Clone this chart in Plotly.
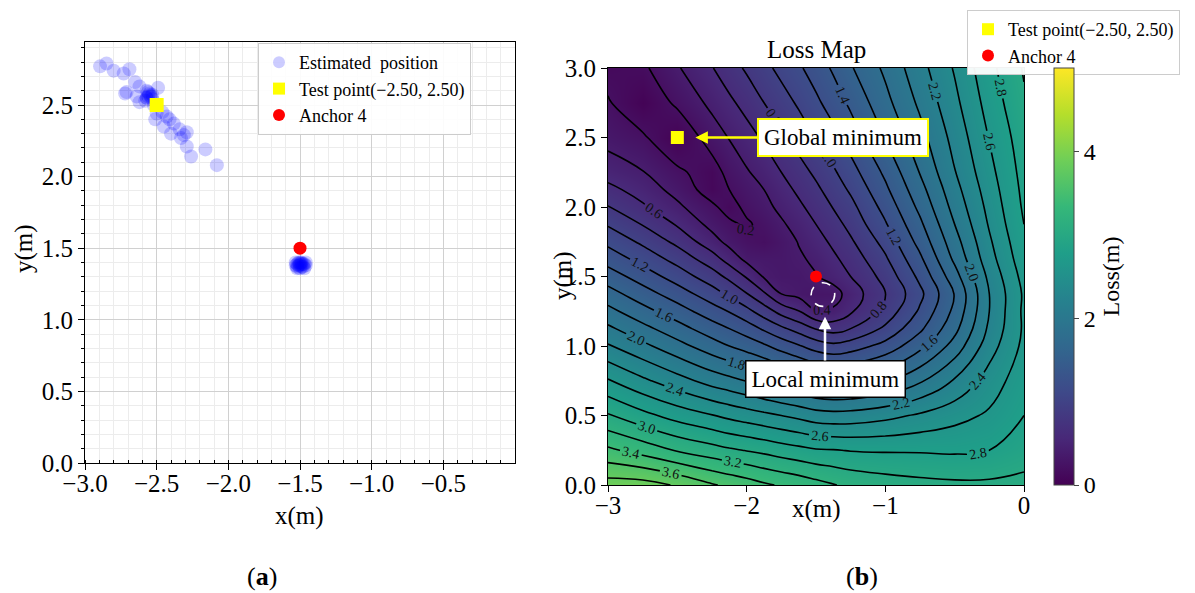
import plotly.graph_objects as go

FONT = "Liberation Serif, Times New Roman, DejaVu Serif, serif"
W, H = 1187, 585      # page body adds an 8 px margin
OFF = 8

# ---------------- panel (a) data ----------------
est_x = [-2.895, -2.85, -2.80, -2.73, -2.69, -2.71, -2.72, -2.65, -2.62, -2.57,
         -2.55, -2.49, -2.62, -2.64, -2.57, -2.53, -2.52, -2.50, -2.46, -2.51,
         -2.43, -2.41, -2.38, -2.45, -2.40, -2.34, -2.31, -2.29, -2.33, -2.29,
         -2.26, -2.16, -2.08, -2.56, -2.55, -2.57, -2.54, -2.56, -2.58, -2.53,
         -1.53, -1.50, -1.47, -1.49, -1.52, -1.48, -1.51, -1.46, -1.50, -1.49,
         -1.52, -1.47, -1.50, -1.51, -1.48, -1.53, -1.49, -1.50, -1.46, -1.52]
est_y = [2.77, 2.79, 2.74, 2.72, 2.75, 2.59, 2.58, 2.66, 2.63, 2.60,
         2.58, 2.62, 2.52, 2.56, 2.55, 2.57, 2.50, 2.44, 2.45, 2.40,
         2.42, 2.40, 2.37, 2.35, 2.30, 2.33, 2.29, 2.31, 2.27, 2.21,
         2.14, 2.19, 2.08, 2.56, 2.57, 2.55, 2.56, 2.59, 2.53, 2.54,
         1.38, 1.38, 1.39, 1.40, 1.37, 1.37, 1.40, 1.40, 1.36, 1.39,
         1.39, 1.36, 1.40, 1.38, 1.39, 1.40, 1.37, 1.39, 1.38, 1.36]
test_x, test_y = [-2.5], [2.5]
anchor_x, anchor_y = [-1.5], [1.5]

# ---------------- panel (b) loss map ----------------
grid_x = [-3.0, -2.75, -2.5, -2.25, -2.125, -2.0, -1.875, -1.75, -1.625, -1.5,
          -1.375, -1.25, -1.0, -0.75, -0.5, -0.25, 0.0]
grid_y = [0.0, 0.25, 0.5, 0.75, 1.0, 1.125, 1.25, 1.375, 1.5, 1.625, 1.75,
          1.875, 2.0, 2.125, 2.25, 2.5, 2.75, 3.0]
loss = [
    [3.89, 3.88, 3.78, 3.62, 3.56, 3.50, 3.43, 3.38, 3.33, 3.27, 3.21, 3.16, 3.10, 3.06, 3.04, 3.04, 3.06],  # 0.0
    [3.44, 3.32, 3.18, 3.08, 3.03, 2.99, 2.95, 2.90, 2.86, 2.82, 2.81, 2.79, 2.78, 2.78, 2.77, 2.80, 2.90],  # 0.25
    [3.02, 2.86, 2.72, 2.61, 2.55, 2.50, 2.45, 2.40, 2.35, 2.29, 2.27, 2.28, 2.34, 2.43, 2.53, 2.63, 2.80],  # 0.5
    [2.62, 2.44, 2.28, 2.12, 2.06, 1.99, 1.92, 1.84, 1.78, 1.71, 1.68, 1.69, 1.79, 1.97, 2.22, 2.49, 2.72],  # 0.75
    [2.22, 2.05, 1.87, 1.69, 1.60, 1.52, 1.43, 1.32, 1.22, 1.11, 1.05, 1.10, 1.27, 1.54, 1.88, 2.31, 2.65],  # 1.0
    [2.04, 1.86, 1.68, 1.49, 1.40, 1.30, 1.17, 1.04, 0.92, 0.79, 0.72, 0.80, 1.04, 1.36, 1.74, 2.24, 2.63],  # 1.125
    [1.86, 1.67, 1.49, 1.29, 1.19, 1.06, 0.90, 0.73, 0.61, 0.41, 0.43, 0.57, 0.87, 1.23, 1.65, 2.20, 2.64],  # 1.25
    [1.68, 1.49, 1.30, 1.09, 0.96, 0.81, 0.63, 0.40, 0.34, 0.29, 0.31, 0.49, 0.79, 1.15, 1.61, 2.20, 2.63],  # 1.375
    [1.50, 1.31, 1.11, 0.89, 0.75, 0.58, 0.38, 0.33, 0.33, 0.39, 0.48, 0.60, 0.87, 1.25, 1.72, 2.25, 2.67],  # 1.5
    [1.32, 1.13, 0.93, 0.69, 0.52, 0.35, 0.33, 0.32, 0.37, 0.44, 0.56, 0.68, 0.97, 1.36, 1.84, 2.32, 2.72],  # 1.625
    [1.15, 0.96, 0.75, 0.48, 0.34, 0.24, 0.20, 0.30, 0.41, 0.52, 0.64, 0.77, 1.07, 1.47, 1.92, 2.37, 2.76],  # 1.75
    [0.98, 0.79, 0.58, 0.34, 0.24, 0.17, 0.26, 0.37, 0.48, 0.60, 0.72, 0.86, 1.18, 1.56, 2.00, 2.42, 2.80],  # 1.875
    [0.81, 0.63, 0.44, 0.24, 0.12, 0.25, 0.34, 0.45, 0.56, 0.68, 0.81, 0.94, 1.27, 1.65, 2.07, 2.46, 2.83],  # 2.0
    [0.66, 0.51, 0.33, 0.10, 0.20, 0.31, 0.40, 0.52, 0.64, 0.76, 0.89, 1.03, 1.36, 1.73, 2.13, 2.50, 2.85],  # 2.125
    [0.51, 0.41, 0.24, 0.10, 0.27, 0.38, 0.48, 0.60, 0.72, 0.84, 0.97, 1.12, 1.44, 1.81, 2.19, 2.54, 2.87],  # 2.25
    [0.33, 0.23, 0.02, 0.30, 0.41, 0.52, 0.63, 0.76, 0.88, 1.01, 1.14, 1.29, 1.61, 1.93, 2.27, 2.61, 2.91],  # 2.5
    [0.22, 0.03, 0.24, 0.45, 0.56, 0.67, 0.80, 0.91, 1.03, 1.16, 1.29, 1.44, 1.74, 2.04, 2.35, 2.68, 2.97],  # 2.75
    [0.12, 0.16, 0.38, 0.59, 0.71, 0.83, 0.94, 1.06, 1.17, 1.29, 1.43, 1.58, 1.84, 2.13, 2.42, 2.74, 3.02],  # 3.0
]
loss_levels = dict(start=0.2, end=4.0, size=0.2)
local_min = (-1.45, 1.37)

a_xticks = [-3.0, -2.5, -2.0, -1.5, -1.0, -0.5]
a_yticks = [0.0, 0.5, 1.0, 1.5, 2.0, 2.5]
b_xticks = [-3, -2, -1, 0]
b_yticks = [0.0, 0.5, 1.0, 1.5, 2.0, 2.5, 3.0]


def px_x(p):
    return (p - OFF) / W


def px_y(p):
    return 1 - (p - OFF) / H


fig = go.Figure()

# ---- panel (a) ----
fig.add_trace(go.Scatter(
    x=est_x, y=est_y, mode="markers", name="Estimated  position",
    marker=dict(size=14, color="rgba(0,0,255,0.2)", line=dict(width=0)),
    xaxis="x", yaxis="y", legend="legend"))
fig.add_trace(go.Scatter(
    x=test_x, y=test_y, mode="markers", name="Test point(\u22122.50, 2.50)",
    marker=dict(size=14, color="yellow", symbol="square", line=dict(width=0)),
    xaxis="x", yaxis="y", legend="legend"))
fig.add_trace(go.Scatter(
    x=anchor_x, y=anchor_y, mode="markers", name="Anchor 4",
    marker=dict(size=13, color="red", line=dict(width=0)),
    xaxis="x", yaxis="y", legend="legend"))

# ---- panel (b): smooth colour field + black labelled contour lines ----
fig.add_trace(go.Heatmap(
    x=grid_x, y=grid_y, z=loss, zsmooth="best",
    colorscale="Viridis", zmin=0, zmax=5.0,
    colorbar=dict(x=px_x(1054), xanchor="left", xpad=0, ypad=0,
                  y=(px_y(68) + px_y(485)) / 2,
                  yanchor="middle", len=(485 - 68) / H, lenmode="fraction",
                  thickness=20, thicknessmode="pixels",
                  tickvals=[0, 2, 4], ticks="outside", ticklen=5,
                  tickfont=dict(size=24, family=FONT, color="black"),
                  outlinewidth=1, outlinecolor="#444",
                  title=dict(text="Loss(m)", side="right",
                             font=dict(size=24, family=FONT, color="black"))),
    xaxis="x2", yaxis="y2", showlegend=False, hoverinfo="skip"))
fig.add_trace(go.Contour(
    x=grid_x, y=grid_y, z=loss, showscale=False,
    contours=dict(coloring="none", showlabels=True, labelformat=".1f",
                  labelfont=dict(size=14, color="#111", family=FONT),
                  **loss_levels),
    line=dict(color="black", width=1.6, smoothing=1.3),
    xaxis="x2", yaxis="y2", showlegend=False, hoverinfo="skip"))
fig.add_trace(go.Scatter(
    x=test_x, y=test_y, mode="markers", name="Test point(\u22122.50, 2.50)",
    marker=dict(size=13, color="yellow", symbol="square", line=dict(width=0)),
    xaxis="x2", yaxis="y2", legend="legend2"))
fig.add_trace(go.Scatter(
    x=anchor_x, y=anchor_y, mode="markers", name="Anchor 4",
    marker=dict(size=12, color="red", line=dict(width=0)),
    xaxis="x2", yaxis="y2", legend="legend2"))

axis_common = dict(showline=True, linecolor="black", linewidth=1.2, mirror=True,
                   ticks="outside", ticklen=6, tickcolor="black",
                   tickfont=dict(size=25, family=FONT, color="black"),
                   zeroline=False)

fig.update_layout(
    width=W, height=H, margin=dict(l=0, r=0, t=0, b=0, autoexpand=False),
    paper_bgcolor="white", plot_bgcolor="white",
    font=dict(family=FONT, color="black"),
    xaxis=dict(domain=[px_x(85), px_x(515)], range=[-3.0, 0.0],
               tickvals=a_xticks, tickformat=".1f", ticklabelstandoff=-8,
               showgrid=True, gridcolor="#d0d0d0", gridwidth=1,
               minor=dict(dtick=0.1, tick0=0, showgrid=True, gridcolor="#ececec",
                          ticks="inside", ticklen=3, tickcolor="black"),
               anchor="y", **axis_common),
    yaxis=dict(domain=[px_y(463), px_y(42)], range=[0.0, 2.94],
               tickvals=a_yticks, tickformat=".1f",
               showgrid=True, gridcolor="#d0d0d0", gridwidth=1,
               minor=dict(dtick=0.1, tick0=0, showgrid=True, gridcolor="#ececec",
                          ticks="outside", ticklen=3, tickcolor="black"),
               anchor="x", **axis_common),
    xaxis2=dict(domain=[px_x(608), px_x(1024)], range=[-3.0, 0.0],
                tickvals=b_xticks, ticklabelstandoff=-8, showgrid=False,
                anchor="y2", **axis_common),
    yaxis2=dict(domain=[px_y(485), px_y(68)], range=[0.0, 3.0],
                tickvals=b_yticks, tickformat=".1f", showgrid=False,
                anchor="x2", **axis_common),
    legend=dict(x=px_x(258), y=px_y(43), xanchor="left", yanchor="top",
                bgcolor="rgba(255,255,255,0.9)", bordercolor="#cccccc",
                borderwidth=1, font=dict(size=18, family=FONT, color="black"),
                itemsizing="constant"),
    legend2=dict(x=px_x(967), y=px_y(10), xanchor="left", yanchor="top",
                 bgcolor="rgba(255,255,255,0.95)", bordercolor="#cccccc",
                 borderwidth=1, font=dict(size=18, family=FONT, color="black"),
                 itemsizing="constant"),
    showlegend=True,
)

fig.add_shape(type="circle", xref="x2", yref="y2",
              x0=local_min[0] - 0.085, x1=local_min[0] + 0.085,
              y0=local_min[1] - 0.085, y1=local_min[1] + 0.085,
              line=dict(color="white", width=1.6, dash="dash"))


def label(x, y, text, size, angle=0):
    return dict(x=px_x(x), y=px_y(y), xref="paper", yref="paper", text=text,
                xanchor="center", yanchor="middle", textangle=angle,
                showarrow=False, font=dict(size=size, family=FONT, color="black"))


annotations = [
    dict(x=-2.37, y=2.5, xref="x2", yref="y2", text="Global minimum",
         showarrow=True, ax=148, ay=0, arrowhead=2, arrowsize=1, arrowwidth=2.5,
         arrowcolor="yellow", bgcolor="white", bordercolor="yellow",
         borderwidth=2, borderpad=5, font=dict(size=23, family=FONT, color="black")),
    dict(x=-1.435, y=1.21, xref="x2", yref="y2", text="Local minimum",
         showarrow=True, ax=0, ay=62, arrowhead=2, arrowsize=1, arrowwidth=2.5,
         arrowcolor="white", bgcolor="white", bordercolor="black",
         borderwidth=1.5, borderpad=5, font=dict(size=23, family=FONT, color="black")),
    label(816, 50, "Loss Map", 25),
    label(299, 516, "x(m)", 25),
    label(24, 249, "y(m)", 25, -90),
    label(816, 509, "x(m)", 25),
    label(563, 276, "y(m)", 25, -90),
    label(262, 576, "(<b>a</b>)", 26),
    label(862, 576, "(<b>b</b>)", 26),
]
fig.update_layout(annotations=annotations)

fig.write_html("out.html")
